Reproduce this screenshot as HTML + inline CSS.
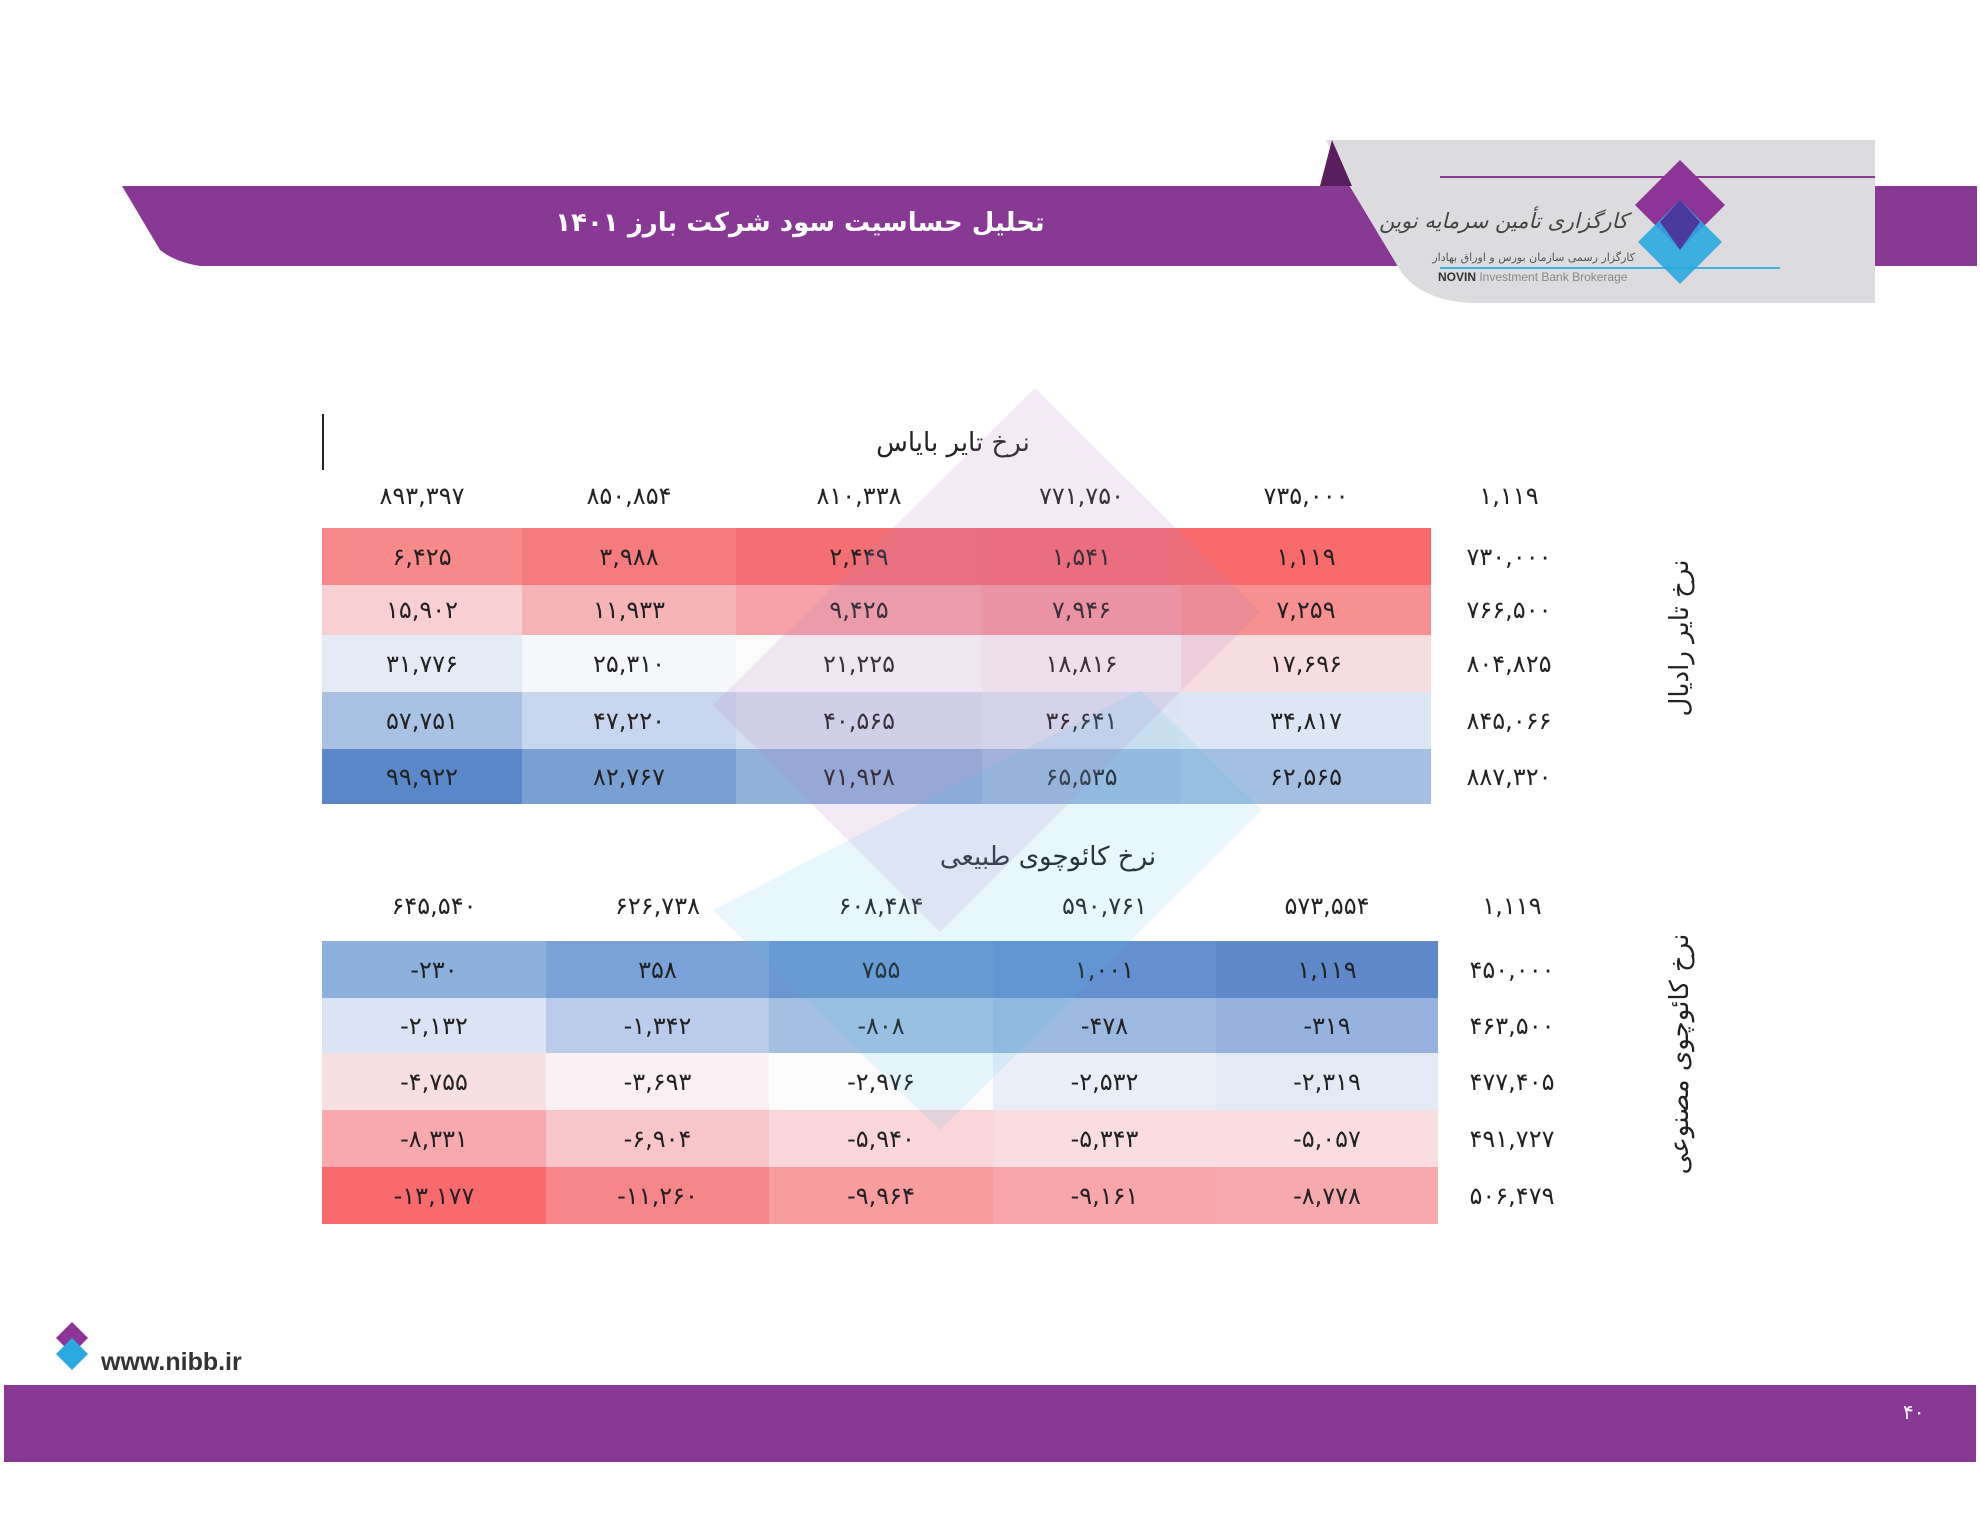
<!DOCTYPE html>
<html><head><meta charset="utf-8">
<style>
body{margin:0;width:1980px;height:1530px;background:#fff;position:relative;overflow:hidden;font-family:"DejaVu Sans","Liberation Sans",sans-serif;}
.a{position:absolute}
.c{position:absolute;display:flex;align-items:center;justify-content:center;font-size:24px;color:#222;}
.h{position:absolute;font-size:24px;color:#222;transform:translateX(-50%);white-space:nowrap}
</style></head><body>
<svg class="a" style="left:0;top:0" width="1980" height="320">
<path d="M122 186 L1420 186 L1420 266 L200 266 Q175 262 160 250 Z" fill="#873994"/>
<rect x="1875" y="186" width="102" height="80" fill="#873994"/>
<path d="M1326 140 L1875 140 L1875 303 L1470 303 Q1420 300 1400 270 L1340 170 Z" fill="#dcdcdf"/>
<path d="M1320 186 L1332 140 L1352 186 Z" fill="#5a1d5e"/>
<line x1="1440" y1="177" x2="1875" y2="177" stroke="#8a3a93" stroke-width="2"/>
<line x1="1440" y1="268" x2="1780" y2="268" stroke="#3ab5e5" stroke-width="2"/>
<polygon points="1680,160 1725,205 1680,250 1635,205" fill="#8e3398"/>
<polygon points="1680,200 1722,242 1680,284 1638,242" fill="#2aa9e0" opacity="0.9"/>
<polygon points="1680,200 1700,222 1680,250 1660,222" fill="#4a3a9e"/>
<text x="1628" y="228" font-size="21" font-style="italic" fill="#444" text-anchor="end" font-family="DejaVu Sans,sans-serif">کارگزاری تأمین سرمایه نوین</text>
<text x="1635" y="261" font-size="11" fill="#555" text-anchor="end" font-family="DejaVu Sans,sans-serif">کارگزار رسمی سازمان بورس و اوراق بهادار</text>
<text x="1438" y="281" font-size="12" fill="#888" font-family="Liberation Sans,sans-serif"><tspan font-weight="bold" fill="#333">NOVIN</tspan> Investment Bank Brokerage</text>
<text x="800" y="231" font-size="26" font-weight="bold" fill="#fff" text-anchor="middle" font-family="DejaVu Sans,sans-serif">تحلیل حساسیت سود شرکت بارز ۱۴۰۱</text>
</svg>
<div class="a" style="left:322px;top:414px;width:2px;height:56px;background:#222"></div>
<div class="h" style="left:953px;top:428px;font-size:26px">نرخ تایر بایاس</div>
<div class="h" style="left:1048px;top:842px;font-size:26px">نرخ کائوچوی طبیعی</div>

<div id="t"></div>
<svg class="a" style="left:0;top:0;pointer-events:none" width="1980" height="1530">
<polygon points="1035,388 1260,612 940,932 713,705" fill="#b47cc0" opacity="0.16"/>
<polygon points="1140,690 1262,810 940,1130 713,910" fill="#4fc3e8" opacity="0.13"/>
</svg>
<div class="a" style="left:1680px;top:638px;transform:translate(-50%,-50%) rotate(-90deg);font-size:26px;white-space:nowrap;color:#222">نرخ تایر رادیال</div>
<div class="a" style="left:1680px;top:1054px;transform:translate(-50%,-50%) rotate(-90deg);font-size:26px;white-space:nowrap;color:#222">نرخ کائوچوی مصنوعی</div>

<div class="a" style="left:4px;top:1385px;width:1972px;height:77px;background:#873994"></div>
<div class="a" style="left:1903px;top:1400px;color:#fff;font-size:20px">۴۰</div>
<svg class="a" style="left:50px;top:1320px" width="45" height="55"><polygon points="22,2 38,18 22,34 6,18" fill="#8e3398"/><polygon points="22,18 38,34 22,50 6,34" fill="#2aa9e0"/></svg>
<div class="a" style="left:101px;top:1348px;font-size:25px;font-weight:bold;color:#333;font-family:'Liberation Sans',sans-serif">www.nibb.ir</div>

<script>
function tbl(xs,ys,hy,heads,rows,cols,lx){
 let h='';
 for(let i=0;i<6;i++){let cx=i<5?(xs[i]+xs[i+1])/2:lx;h+=`<div class="h" style="left:${cx}px;top:${hy-17}px">${heads[i]}</div>`;}
 for(let r=0;r<5;r++){
  for(let c=0;c<5;c++){h+=`<div class="c" style="left:${xs[c]}px;top:${ys[r]}px;width:${xs[c+1]-xs[c]}px;height:${ys[r+1]-ys[r]}px;background:${cols[r][c]}">${rows[r][c]}</div>`;}
  h+=`<div class="c" style="left:${lx-80}px;top:${ys[r]}px;width:160px;height:${ys[r+1]-ys[r]}px">${rows[r][5]}</div>`;
 }
 return h;
}
let H=tbl([322,522,736,982,1181,1431],[528,585,635,692,749,804],499,
['۸۹۳,۳۹۷','۸۵۰,۸۵۴','۸۱۰,۳۳۸','۷۷۱,۷۵۰','۷۳۵,۰۰۰','۱,۱۱۹'],
[['۶,۴۲۵','۳,۹۸۸','۲,۴۴۹','۱,۵۴۱','۱,۱۱۹','۷۳۰,۰۰۰'],
['۱۵,۹۰۲','۱۱,۹۳۳','۹,۴۲۵','۷,۹۴۶','۷,۲۵۹','۷۶۶,۵۰۰'],
['۳۱,۷۷۶','۲۵,۳۱۰','۲۱,۲۲۵','۱۸,۸۱۶','۱۷,۶۹۶','۸۰۴,۸۲۵'],
['۵۷,۷۵۱','۴۷,۲۲۰','۴۰,۵۶۵','۳۶,۶۴۱','۳۴,۸۱۷','۸۴۵,۰۶۶'],
['۹۹,۹۲۲','۸۲,۷۶۷','۷۱,۹۲۸','۶۵,۵۳۵','۶۲,۵۶۵','۸۸۷,۳۲۰']],
[['#f88a8b','#f57b7e','#f46f73','#f56c70','#f86a6b'],
['#f8d0d3','#f7b4b7','#f6a2a6','#f5989c','#f79090'],
['#e5ebf6','#f5f7fb','#fbfbfc','#faf0f2','#f8dde0'],
['#a9c1e2','#c7d6ec','#d4e0f0','#dae4f2','#dde6f4'],
['#5a87c7','#7aa0d3','#91b1db','#9ebbe0','#a3bfe2']],1509);
H+=tbl([322,546,769,993,1216,1438],[941,998,1053,1110,1167,1224],909,
['۶۴۵,۵۴۰','۶۲۶,۷۳۸','۶۰۸,۴۸۴','۵۹۰,۷۶۱','۵۷۳,۵۵۴','۱,۱۱۹'],
[['-۲۳۰','۳۵۸','۷۵۵','۱,۰۰۱','۱,۱۱۹','۴۵۰,۰۰۰'],
['-۲,۱۳۲','-۱,۳۴۲','-۸۰۸','-۴۷۸','-۳۱۹','۴۶۳,۵۰۰'],
['-۴,۷۵۵','-۳,۶۹۳','-۲,۹۷۶','-۲,۵۳۲','-۲,۳۱۹','۴۷۷,۴۰۵'],
['-۸,۳۳۱','-۶,۹۰۴','-۵,۹۴۰','-۵,۳۴۳','-۵,۰۵۷','۴۹۱,۷۲۷'],
['-۱۳,۱۷۷','-۱۱,۲۶۰','-۹,۹۶۴','-۹,۱۶۱','-۸,۷۷۸','۵۰۶,۴۷۹']],
[['#8db0dd','#7aa2d8','#6a96d2','#6590d0','#5f88c9'],
['#dbe4f4','#b9cdea','#a5bfe3','#9cb9e1','#95b3de'],
['#f8dfe2','#faf0f3','#fcfcfd','#e9eef8','#e3eaf6'],
['#f7a9ad','#f8c6c9','#f8d6d9','#f9dde0','#f9dde0'],
['#f86a6d','#f6868a','#f79d9f','#f8a6a9','#f7aaae']],1512);
document.getElementById('t').innerHTML=H;
</script>
</body></html>
